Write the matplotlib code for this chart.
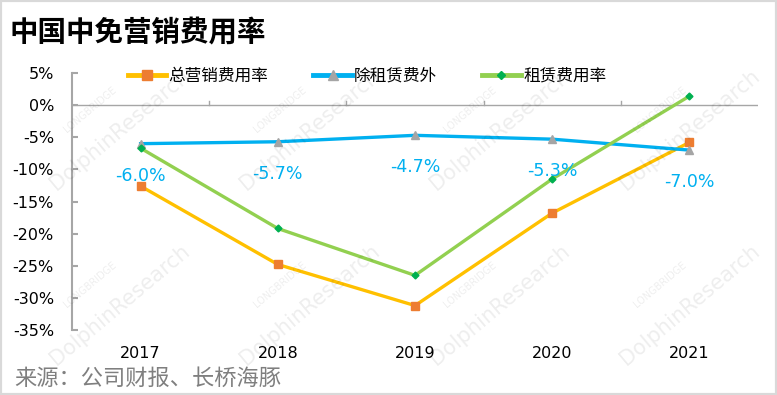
import matplotlib.pyplot as plt
from matplotlib.lines import Line2D

plt.rcParams['font.family'] = ['Noto Sans CJK SC', 'DejaVu Sans']

years = ['2017', '2018', '2019', '2020', '2021']
total_rate = [-12.6, -24.8, -31.2, -16.8, -5.8]
ex_rent = [-6.0, -5.7, -4.7, -5.3, -7.0]
rent_rate = [-6.7, -19.2, -26.5, -11.5, 1.4]
yticks = [5, 0, -5, -10, -15, -20, -25, -30, -35]

fig = plt.figure(figsize=(7.77, 3.95), dpi=100)
ax = fig.add_axes([72 / 777, 1 - 330 / 395, (758 - 72) / 777, (330 - 73) / 395])

# faint watermarks
for wx, wy in [(120, 130), (310, 130), (500, 130), (690, 130),
               (120, 305), (310, 305), (500, 305), (690, 305)]:
    fig.text(wx / 777, 1 - wy / 395, 'DolphinResearch', rotation=40, fontsize=15,
             color='#000000', alpha=0.07, ha='center', va='center', family=['DejaVu Sans'])
    fig.text((wx - 30) / 777, 1 - (wy - 20) / 395, 'LONGBRIDGE', rotation=40, fontsize=7,
             color='#000000', alpha=0.07, ha='center', va='center', family=['DejaVu Sans'])

x = list(range(len(years)))
ax.plot(x, total_rate, color='#FFC000', lw=2.4, marker='s', ms=5.5,
        mfc='#ED7D31', mec='#ED7D31', zorder=3)
ax.plot(x, ex_rent, color='#00B0F0', lw=2.4, marker='^', ms=6,
        mfc='#A5A5A5', mec='#A5A5A5', zorder=3)
ax.plot(x, rent_rate, color='#92D050', lw=2.4, marker='D', ms=3.5,
        mfc='#00B050', mec='#00B050', zorder=3)

for i, v in enumerate(ex_rent):
    ax.annotate('{:.1f}%'.format(v), (i, v), xytext=(0, -23), textcoords='offset points',
                ha='center', va='center', color='#00B0F0', fontsize=12.5,
                family=['DejaVu Sans'])

ax.set_xlim(-0.5, 4.5)
ax.set_ylim(-35, 5)
ax.set_yticks(yticks)
ax.set_yticklabels(['{}%'.format(t) for t in yticks], fontsize=11.5, family=['DejaVu Sans'])
ax.set_xticks([])
ax.patch.set_alpha(0)
for spine in ['top', 'right', 'bottom']:
    ax.spines[spine].set_visible(False)
ax.spines['left'].set_color('#A6A6A6')
ax.spines['left'].set_linewidth(1.5)
ax.tick_params(axis='y', direction='in', length=4, color='#A6A6A6', width=1.5, pad=13)

# zero line with category tick marks
ax.axhline(0, color='#A6A6A6', lw=1, zorder=1)
for b in [0.5, 1.5, 2.5, 3.5]:
    ax.plot([b, b], [0, 0.6], color='#A6A6A6', lw=1, zorder=1)

for i, y in enumerate(years):
    ax.text(i, -38.6, y, ha='center', va='center', fontsize=11.5, family=['DejaVu Sans'])

handles = [
    Line2D([], [], color='#FFC000', lw=3.5, marker='s', ms=6.5, mfc='#ED7D31', mec='#ED7D31'),
    Line2D([], [], color='#00B0F0', lw=3.5, marker='^', ms=6.5, mfc='#A5A5A5', mec='#A5A5A5'),
    Line2D([], [], color='#92D050', lw=3.5, marker='D', ms=4, mfc='#00B050', mec='#00B050'),
]
fig.legend(handles, ['总营销费用率', '除租赁费外', '租赁费用率'], loc='center',
           bbox_to_anchor=(367 / 777, 1 - 76 / 395), ncol=3, frameon=False,
           fontsize=12, handlelength=2.3, columnspacing=2.7, handletextpad=0.15)

fig.text(10 / 777, 1 - 33 / 395, '中国中免营销费用率', fontsize=20.5, fontweight='bold',
         ha='left', va='center')
fig.text(14 / 777, 1 - 378 / 395, '来源：公司财报、长桥海豚', fontsize=16,
         color='#7F7F7F', ha='left', va='center')

fig.patches.append(plt.Rectangle((0, 0), 1, 1, transform=fig.transFigure, fill=False,
                                 edgecolor='#D9D9D9', lw=3))

fig.savefig('out.png', dpi=100)
